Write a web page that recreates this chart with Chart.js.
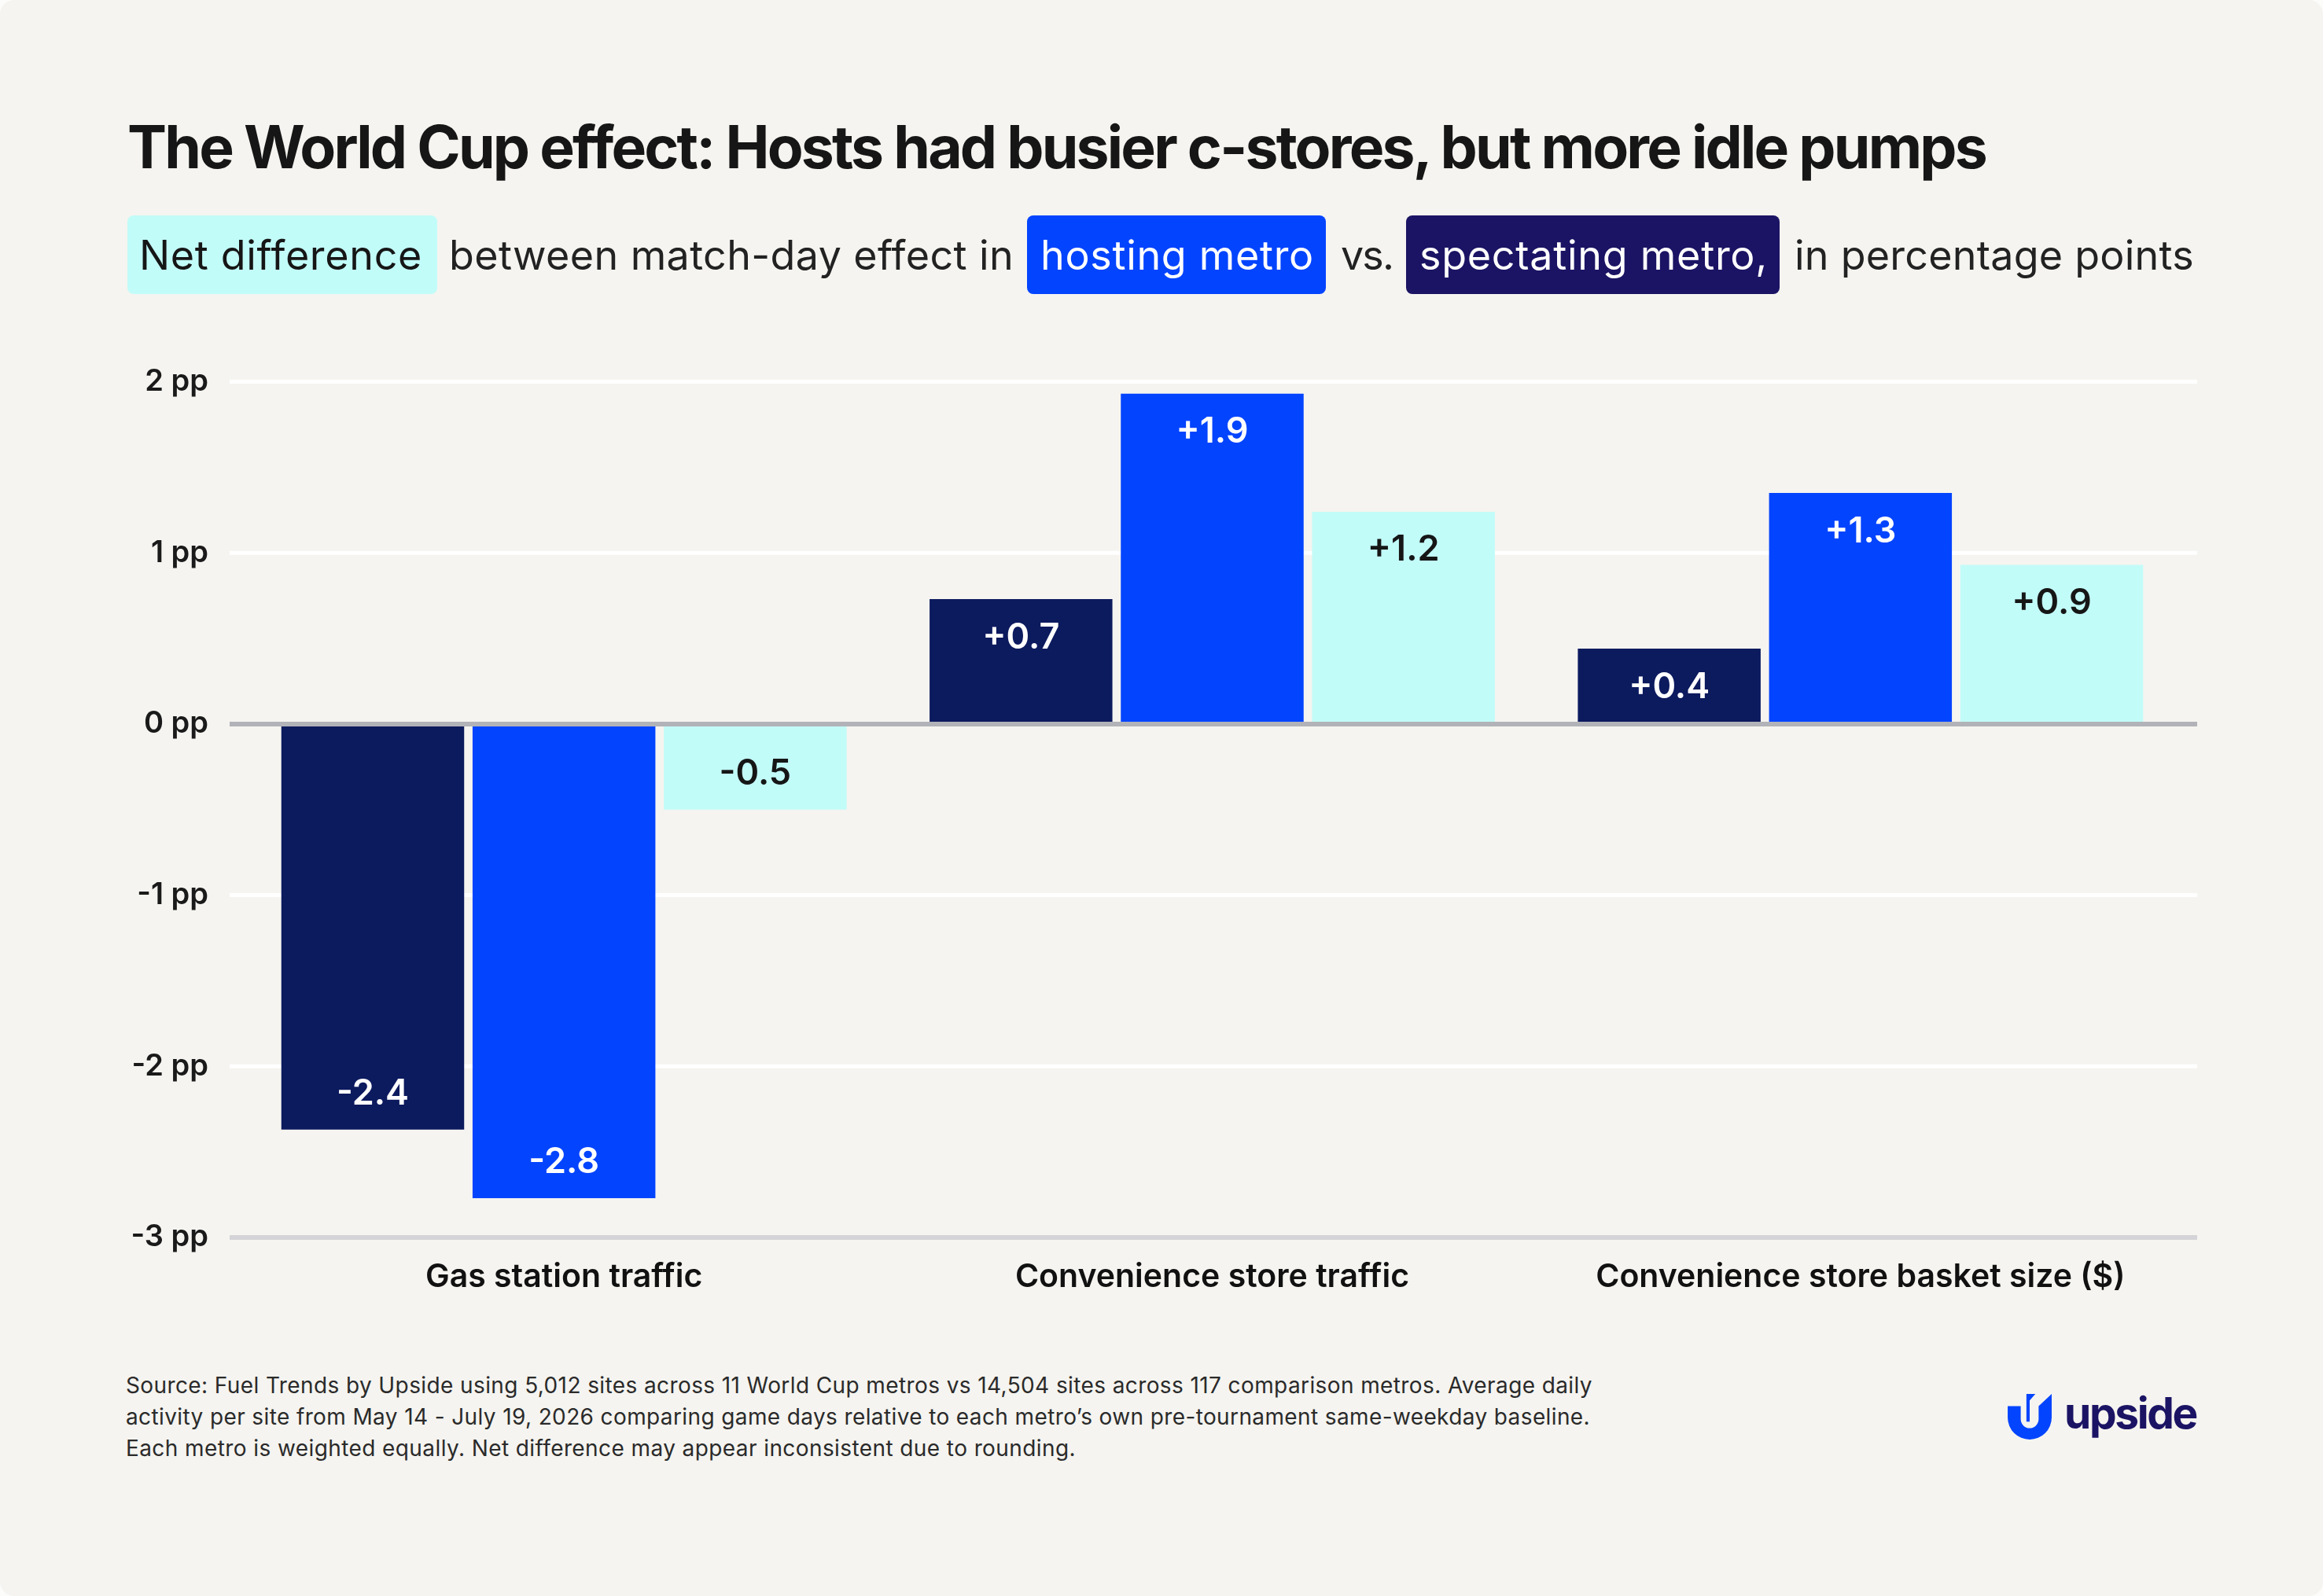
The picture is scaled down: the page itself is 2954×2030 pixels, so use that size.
<!DOCTYPE html>
<html>
<head>
<meta charset="utf-8">
<script src="https://cdn.jsdelivr.net/npm/chart.js@4.4.1/dist/chart.umd.min.js"></script>
<style>
  html, body { margin:0; padding:0; background:#fcfcfb; }
  body { width:2954px; height:2030px; overflow:hidden; position:relative; font-family:'Inter', 'DejaVu Sans', sans-serif; }
  #page { position:absolute; left:0; top:0; width:2954px; height:2030px; background:#f5f4f0; border-radius:18px; }
  .t { position:absolute; white-space:nowrap; line-height:1; }
  .box { position:absolute; border-radius:8px; }
  #chartCanvas { position:absolute; left:0; top:400px; }
</style>
</head>
<body>
<div id="page">
  <div class="t" id="title" style="left:162px; top:149px; font-size:75px; font-weight:700; color:#161616;">The World Cup effect: Hosts had busier c-stores, but more idle pumps</div>

  <div class="box" style="left:162px; top:274px; width:394px; height:100px; background:#c2fcf9;"></div>
  <div class="box" style="left:1306px; top:274px; width:380px; height:100px; background:#0344ff;"></div>
  <div class="box" style="left:1788px; top:274px; width:475px; height:100px; background:#1b1464;"></div>

  <div class="t sub" data-w="360" style="left:177px; color:#161616;">Net difference</div>
  <div class="t sub" data-w="718" style="left:571px; color:#222;">between match-day effect in</div>
  <div class="t sub" data-w="348" style="left:1323px; color:#ffffff;">hosting metro</div>
  <div class="t sub" data-w="66" style="left:1705px; color:#222;">vs.</div>
  <div class="t sub" data-w="443" style="left:1805px; color:#ffffff;">spectating metro,</div>
  <div class="t sub" data-w="508" style="left:2282px; color:#222;">in percentage points</div>

  <canvas id="chartCanvas" width="2954" height="1300" style="width:2954px;height:1300px;"></canvas>

  <div class="t foot" data-w="1865" style="left:160px; top:1748px;">Source: Fuel Trends by Upside using 5,012 sites across 11 World Cup metros vs 14,504 sites across 117 comparison metros. Average daily</div>
  <div class="t foot" data-w="1862" style="left:160px; top:1788px;">activity per site from May 14 - July 19, 2026 comparing game days relative to each metro’s own pre-tournament same-weekday baseline.</div>
  <div class="t foot" data-w="1208" style="left:160px; top:1828px;">Each metro is weighted equally. Net difference may appear inconsistent due to rounding.</div>

  <svg style="position:absolute; left:2553px; top:1773px;" width="56" height="58" viewBox="0 0 54 56">
    <path d="M0 15 H16 V31 A11 11 0 0 0 38 31 V15 L54 0 V29 A27 27 0 0 1 0 29 Z" fill="#0344ff"/>
    <path d="M23 0 H34 L27 8 V34 H23 Z" fill="#0344ff"/>
  </svg>
  <div class="t" id="logo" data-w="168" style="left:2625px; top:1770px; font-size:55px; font-weight:700; color:#1b1464;">upside</div>
</div>

<script>
// ---------- DATA ----------
const categories = ['Gas station traffic', 'Convenience store traffic', 'Convenience store basket size ($)'];
const spectatingValues = [-2.37, 0.73, 0.44];
const hostingValues    = [-2.77, 1.93, 1.35];
const netValues        = [-0.50, 1.24, 0.93];
const spectatingLabels = ['-2.4', '+0.7', '+0.4'];
const hostingLabels    = ['-2.8', '+1.9', '+1.3'];
const netLabels        = ['-0.5', '+1.2', '+0.9'];
const yTickValues      = [2, 1, 0, -1, -2, -3];
const yTickSuffix      = ' pp';

// ---------- STYLE ----------
const NAVY = '#0c1a5e', BLUE = '#0344ff', CYAN = '#c2fcf9';
const FONT = "'Inter', 'DejaVu Sans', sans-serif";

// ---------- TEXT FITTING ----------
function fit(el, w) {
  el.style.letterSpacing = '0px';
  const cw = el.getBoundingClientRect().width;
  const n = el.textContent.length;
  el.style.letterSpacing = ((w - cw) / n) + 'px';
}
document.querySelectorAll('.sub').forEach(el => {
  el.style.fontSize = '52px'; el.style.top = '299px'; el.style.fontWeight = '400';
});
document.querySelectorAll('.foot').forEach(el => {
  el.style.fontSize = '28px'; el.style.color = '#2a2a2a'; el.style.fontWeight = '400';
});
function fitAll() {
  fit(document.getElementById('title'), 2363);
  document.querySelectorAll('[data-w]').forEach(el => fit(el, +el.dataset.w));
}
fitAll();
if (document.fonts && document.fonts.ready) document.fonts.ready.then(fitAll);

// ---------- CHART ----------
const refLines = {
  id: 'refLines',
  beforeDatasetsDraw(chart) {
    const { ctx, chartArea, scales: { y } } = chart;
    const x0 = chartArea.left - 13, x1 = chartArea.right + 16;
    ctx.save();
    ctx.strokeStyle = '#ffffff';
    ctx.lineWidth = 5;
    yTickValues.filter(v => v !== 0 && v !== y.min).forEach(v => {
      const py = y.getPixelForValue(v);
      ctx.beginPath(); ctx.moveTo(x0, py); ctx.lineTo(x1, py); ctx.stroke();
    });
    ctx.restore();
  },
  afterDatasetsDraw(chart) {
    const { ctx, chartArea, scales: { y } } = chart;
    const x0 = chartArea.left - 13, x1 = chartArea.right + 16;
    ctx.save();
    ctx.lineWidth = 6;
    ctx.strokeStyle = '#b2b3b8';
    let py = y.getPixelForValue(0);
    ctx.beginPath(); ctx.moveTo(x0, py); ctx.lineTo(x1, py); ctx.stroke();
    ctx.strokeStyle = '#d4d4d8';
    py = y.getPixelForValue(y.min);
    ctx.beginPath(); ctx.moveTo(x0, py); ctx.lineTo(x1, py); ctx.stroke();

    // value labels
    const labelSets = [spectatingLabels, hostingLabels, netLabels];
    const labelColors = ['#ffffff', '#ffffff', '#161616'];
    ctx.font = `600 45px ${FONT}`;
    ctx.textAlign = 'center';
    ctx.textBaseline = 'middle';
    chart.data.datasets.forEach((ds, i) => {
      const meta = chart.getDatasetMeta(i);
      meta.data.forEach((bar, j) => {
        const v = ds.data[j];
        const ly = v >= 0 ? bar.y + 49 : bar.y - 45;
        ctx.fillStyle = labelColors[i];
        ctx.fillText(labelSets[i][j], bar.x, ly);
      });
    });
    ctx.restore();
  }
};

Chart.defaults.font.family = FONT;
new Chart(document.getElementById('chartCanvas'), {
  type: 'bar',
  data: {
    labels: categories,
    datasets: [
      { label: 'Spectating metro', data: spectatingValues, backgroundColor: NAVY },
      { label: 'Hosting metro',    data: hostingValues,    backgroundColor: BLUE },
      { label: 'Net difference',   data: netValues,        backgroundColor: CYAN }
    ]
  },
  options: {
    responsive: false,
    devicePixelRatio: 1,
    animation: false,
    datasets: { bar: { categoryPercentage: 0.885, barPercentage: 0.956, borderWidth: 0 } },
    layout: { padding: { top: 85.5, right: 176, left: 0, bottom: 0 } },
    plugins: { legend: { display: false }, tooltip: { enabled: false } },
    scales: {
      x: {
        grid: { display: false, drawTicks: false },
        border: { display: false },
        ticks: { font: { size: 41, weight: '600' }, color: '#111111', padding: 26 },
        afterFit(s) { s.height = 126; }
      },
      y: {
        min: -3, max: 2,
        afterBuildTicks(s) { s.ticks = yTickValues.map(v => ({ value: v })); },
        ticks: { callback: v => v + yTickSuffix, font: { size: 38, weight: '600' }, color: '#1a1a1a', padding: 40, labelOffset: 0 },
        grid: { display: false, drawTicks: false },
        border: { display: false },
        afterFit(s) { s.width = 305; }
      }
    }
  },
  plugins: [refLines]
});
</script>
</body>
</html>
